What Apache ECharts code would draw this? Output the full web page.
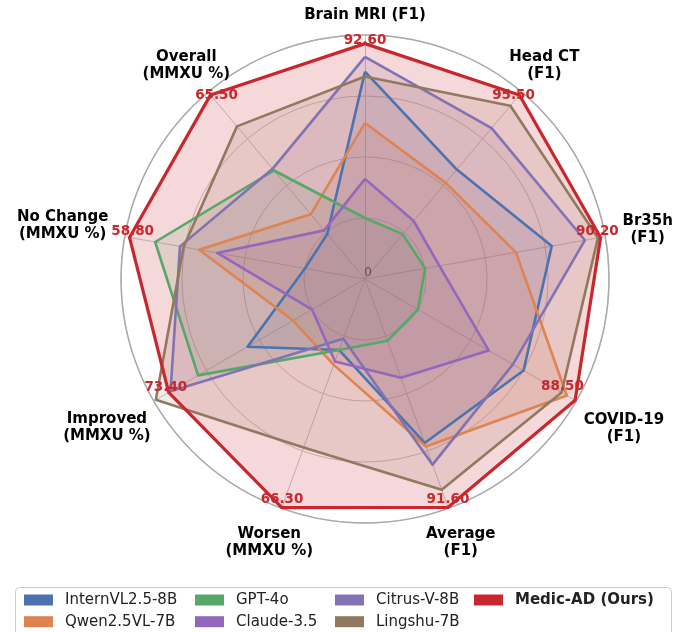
<!DOCTYPE html>
<html>
<head>
<meta charset="utf-8">
<script src="https://cdn.jsdelivr.net/npm/echarts@6/dist/echarts.min.js"></script>
<style>
  html, body { margin: 0; padding: 0; background: #fff; }
  #chart { width: 679px; height: 632px; }
</style>
</head>
<body>
<div id="chart"></div>
<script>
// Axes, listed clockwise starting from the top
const axisNames = ['Brain MRI (F1)', 'Head CT\n(F1)', 'Br35h\n(F1)', 'COVID-19\n(F1)', 'Average\n(F1)',
  'Worsen\n(MMXU %)', 'Improved\n(MMXU %)', 'No Change\n(MMXU %)', 'Overall\n(MMXU %)'];
// Top of each axis scale (the outer ring)
const axisMax = [96, 97, 92, 89, 92, 66.5, 79, 60, 66.5];

const modelNames = ['InternVL2.5-8B', 'Qwen2.5VL-7B', 'GPT-4o', 'Claude-3.5', 'Citrus-V-8B', 'Lingshu-7B', 'Medic-AD (Ours)'];
const internVL = [81.6, 56.8, 71.5, 66.8, 65.8, 20.6, 43.9, 15.0, 16.0];
const qwen     = [61.4, 49.9, 57.8, 85.0, 67.2, 24.9, 26.9, 41.4, 23.0];
const gpt4o    = [24.0, 23.3, 23.0, 22.3, 24.8, 20.6, 62.4, 52.4, 38.6];
const claude   = [39.4, 30.1, 28.5, 52.1, 39.6, 23.9, 19.8, 36.9, 17.3];
const citrus   = [87.4, 78.3, 84.2, 62.3, 74.5, 17.3, 72.7, 46.2, 39.2];
const lingshu  = [79.7, 89.9, 89.2, 82.8, 84.6, 48.9, 78.2, 45.3, 54.3];
const medicAD  = [92.6, 95.5, 90.2, 88.5, 91.6, 66.3, 73.4, 58.8, 65.5];

const colors = ['#4C72B0', '#DD8452', '#55A868', '#9467BD', '#8172B3', '#937860', '#C8282D'];
const seriesValues = [internVL, qwen, gpt4o, claude, citrus, lingshu, medicAD];

// Plot geometry
const CX = 365, CY = 279, R = 244;
const FONT = '"DejaVu Sans", sans-serif';
// distance of each axis title centre from the middle
const nameDist = [264, 279, 287, 299, 280, 280, 298, 307, 278];
// radius at which the Medic-AD value labels sit (text bottom)
const valueLabelDist = [232, 231, 236, 228, 242.5, 242.5, 230, 236, 231];

// ECharts places indicators counter-clockwise, so reverse everything after the first axis
const ccw = [0, 8, 7, 6, 5, 4, 3, 2, 1];
const reorder = arr => ccw.map(i => arr[i]);

const angleOf = i => (90 - 40 * i) * Math.PI / 180; // clockwise index -> angle

const graphics = [];
// outer ring drawn slightly darker
graphics.push({
  type: 'circle', z: 1, silent: true,
  shape: { cx: CX, cy: CY, r: R },
  style: { fill: null, stroke: '#aaaaaa', lineWidth: 1.5 }
});
axisNames.forEach((name, i) => {
  const a = angleOf(i);
  graphics.push({
    type: 'text', z: 30, silent: true,
    x: CX + nameDist[i] * Math.cos(a), y: CY - nameDist[i] * Math.sin(a),
    style: {
      text: name, align: 'center', verticalAlign: 'middle',
      fontFamily: FONT, fontWeight: 'bold', fontSize: 15, lineHeight: 17, fill: '#000'
    }
  });
  graphics.push({
    type: 'text', z: 30, silent: true,
    x: CX + valueLabelDist[i] * Math.cos(a), y: CY - valueLabelDist[i] * Math.sin(a),
    style: {
      text: medicAD[i].toFixed(2), align: 'center', verticalAlign: 'bottom',
      fontFamily: FONT, fontWeight: 'bold', fontSize: 13.5, fill: colors[6]
    }
  });
});
graphics.push({
  type: 'text', z: 30, silent: true, x: CX + 3, y: CY - 6,
  style: { text: '0', align: 'center', verticalAlign: 'middle', fontFamily: FONT, fontSize: 12, fill: '#555' }
});
// legend frame
graphics.push({
  type: 'rect', z: 0, silent: true,
  shape: { x: 15.5, y: 587.5, width: 656, height: 60, r: 4 },
  style: { fill: '#fff', stroke: '#cccccc', lineWidth: 1 }
});

// translucent fills first, outlines on top of all fills
const fillSeries = seriesValues.map((vals, k) => ({
  type: 'radar',
  name: modelNames[k],
  z: 2,
  symbol: 'none',
  lineStyle: { width: 0, opacity: 0 },
  areaStyle: { color: colors[k], opacity: k === 6 ? 0.18 : 0.14 },
  itemStyle: { color: colors[k] },
  data: [{ name: modelNames[k], value: reorder(vals) }]
}));
const lineSeries = seriesValues.map((vals, k) => ({
  type: 'radar',
  name: modelNames[k],
  z: 3,
  symbol: 'none',
  lineStyle: { color: colors[k], width: k === 6 ? 3.2 : 2.6 },
  itemStyle: { color: colors[k] },
  data: [{ name: modelNames[k], value: reorder(vals) }]
}));

const legendCols = [
  { names: [modelNames[0], modelNames[1]], left: 24 },
  { names: [modelNames[2], modelNames[3]], left: 195 },
  { names: [modelNames[4], modelNames[5]], left: 335 },
  { names: [modelNames[6]], left: 474, bold: true }
];

const option = {
  animation: false,
  backgroundColor: '#fff',
  radar: {
    center: [CX, CY],
    radius: R,
    startAngle: 90,
    shape: 'circle',
    splitNumber: 4,
    indicator: reorder(axisNames).map((n, j) => ({ name: n, min: 0, max: reorder(axisMax)[j] })),
    axisName: { show: false },
    axisLine: { lineStyle: { color: '#c6c6c6', width: 1 } },
    splitLine: { lineStyle: { color: '#c6c6c6', width: 1 } },
    splitArea: { show: false }
  },
  legend: legendCols.map(c => ({
    data: c.names,
    orient: 'vertical',
    left: c.left,
    top: 592,
    padding: 0,
    itemGap: 5.7,
    itemWidth: 29,
    itemHeight: 11,
    icon: 'rect',
    textStyle: {
      fontFamily: FONT, fontSize: 15, color: '#222', lineHeight: 16,
      fontWeight: c.bold ? 'bold' : 'normal', padding: [0, 0, 0, 7]
    }
  })),
  graphic: graphics,
  series: fillSeries.concat(lineSeries)
};

const chart = echarts.init(document.getElementById('chart'), null, { renderer: 'canvas' });
chart.setOption(option);
</script>
</body>
</html>
